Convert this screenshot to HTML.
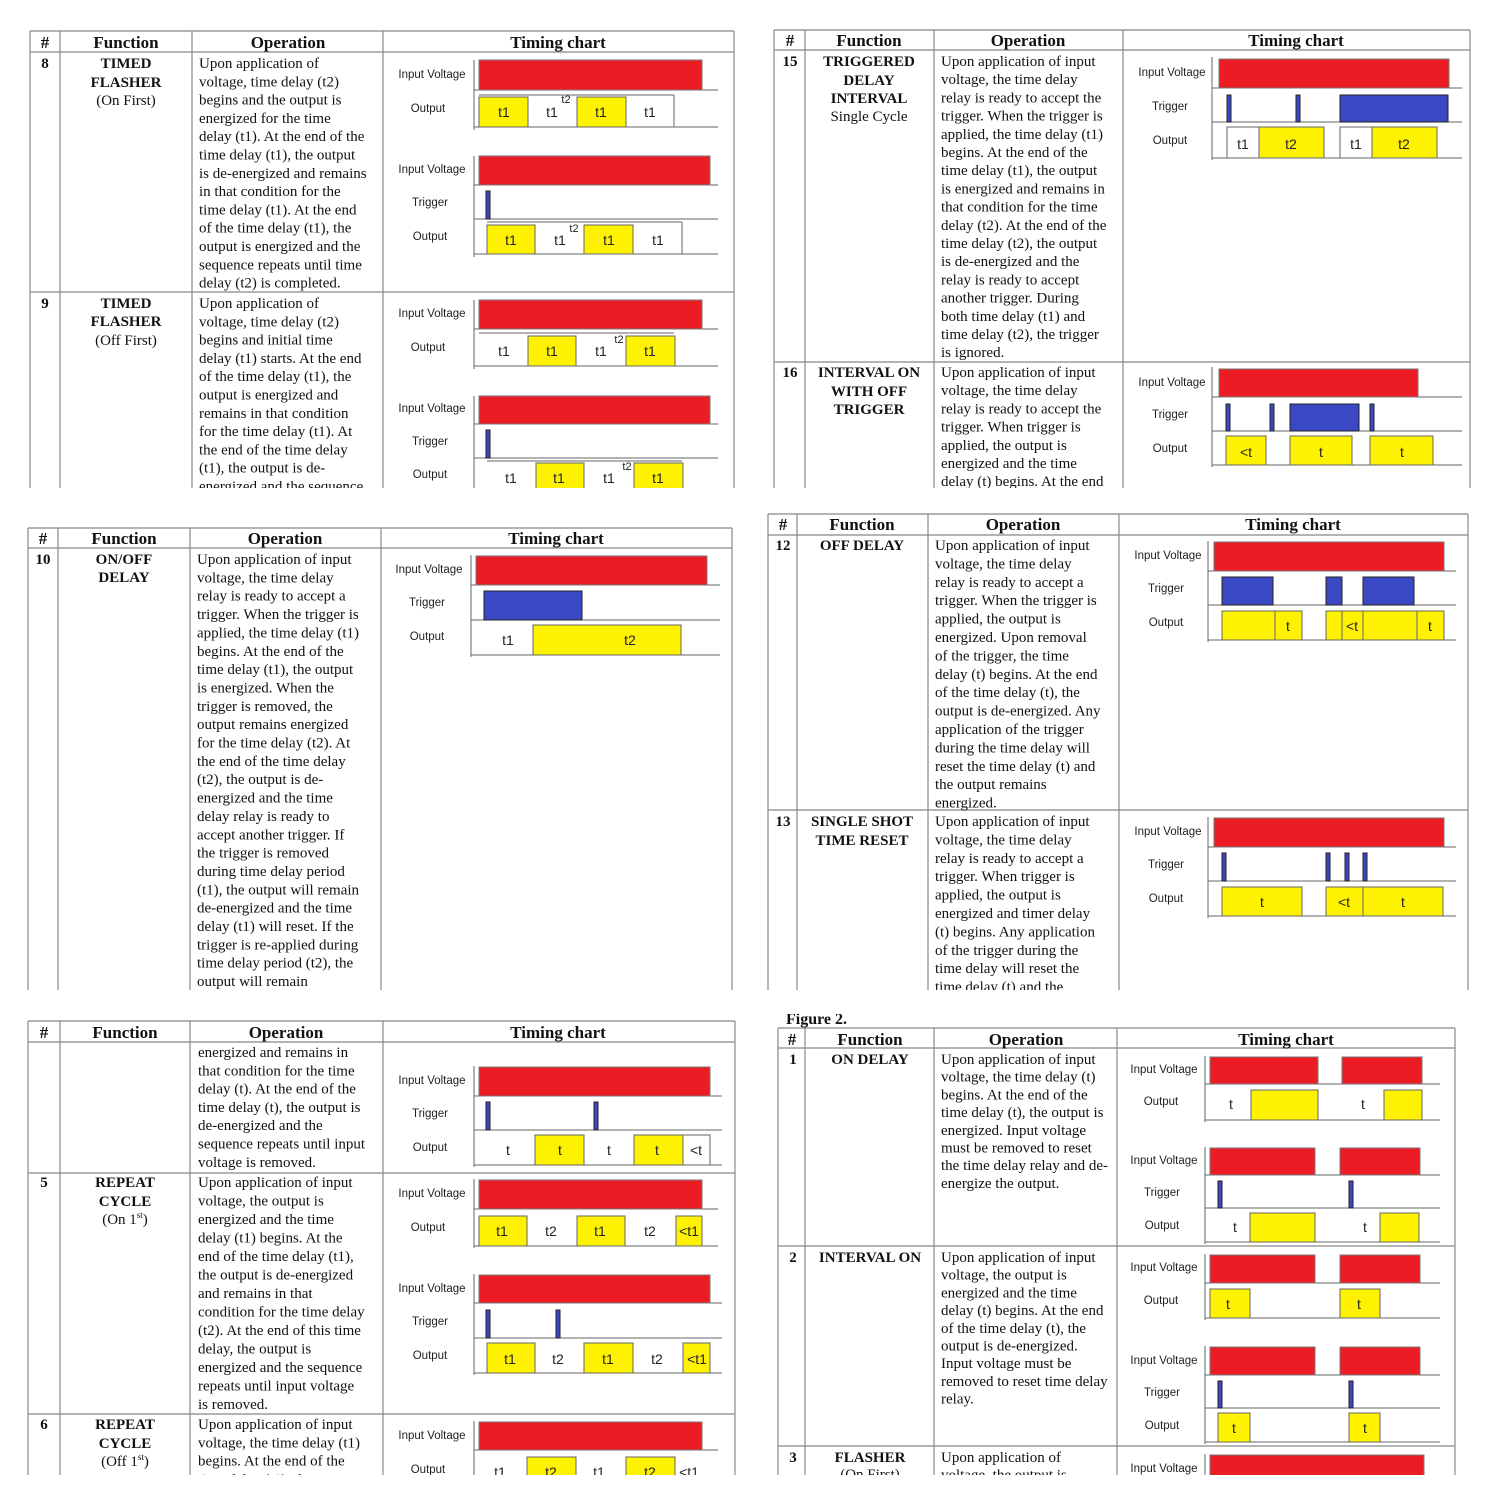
<!DOCTYPE html>
<html><head><meta charset="utf-8"><style>
body{margin:0;background:#fff}
svg{display:block}
.h{font:bold 17px "Liberation Serif",serif;fill:#111;text-anchor:middle}
.f{font:bold 15px "Liberation Serif",serif;fill:#111;text-anchor:middle}
.fn{font:15px "Liberation Serif",serif;fill:#111;text-anchor:middle}
.o{font:15px "Liberation Serif",serif;fill:#111}
.l{font:11.5px "Liberation Sans",sans-serif;fill:#222;text-anchor:middle}
.t{font:14px "Liberation Sans",sans-serif;fill:#222;text-anchor:middle}
.s{font:11px "Liberation Sans",sans-serif;fill:#222;text-anchor:middle}
.g{stroke:#888;stroke-width:1.2;fill:none}
.a{stroke:#666;stroke-width:1;fill:none}
.r{fill:#ec1c24;stroke:#777;stroke-width:1}
.y{fill:#fff200;stroke:#666;stroke-width:1}
.w{fill:#fff;stroke:#666;stroke-width:1}
.b{fill:#3a48c4;stroke:#222;stroke-width:1}
</style></head><body>
<svg width="1500" height="1500" viewBox="0 0 1500 1500" xmlns="http://www.w3.org/2000/svg">
<defs>
<clipPath id="cA"><rect x="0" y="0" width="760" height="488"/></clipPath>
<clipPath id="cB"><rect x="760" y="0" width="740" height="488"/></clipPath>
<clipPath id="cC"><rect x="0" y="500" width="760" height="490"/></clipPath>
<clipPath id="cD"><rect x="760" y="500" width="740" height="490"/></clipPath>
<clipPath id="cE"><rect x="0" y="1000" width="760" height="475"/></clipPath>
<clipPath id="cF"><rect x="760" y="1000" width="740" height="475"/></clipPath>
</defs>

<!-- ===== Panel A ===== -->
<g clip-path="url(#cA)">
<path class="g" d="M30 31H734M30 52H734M30 292H734M30 31V488M60 31V488M192 31V488M383 31V488M734 31V488"/>
<text class="h" x="45" y="48">#</text><text class="h" x="126" y="48">Function</text><text class="h" x="288" y="48">Operation</text><text class="h" x="558" y="48">Timing chart</text>
<text class="f" x="45" y="68">8</text>
<text class="f" x="126" y="68">TIMED</text><text class="f" x="126" y="87">FLASHER</text><text class="fn" x="126" y="105">(On First)</text>
<text class="o" x="199" y="68"><tspan x="199">Upon application of</tspan><tspan x="199" dy="18.3">voltage, time delay (t2)</tspan><tspan x="199" dy="18.3">begins and the output is</tspan><tspan x="199" dy="18.3">energized for the time</tspan><tspan x="199" dy="18.3">delay (t1). At the end of the</tspan><tspan x="199" dy="18.3">time delay (t1), the output</tspan><tspan x="199" dy="18.3">is de-energized and remains</tspan><tspan x="199" dy="18.3">in that condition for the</tspan><tspan x="199" dy="18.3">time delay (t1). At the end</tspan><tspan x="199" dy="18.3">of the time delay (t1), the</tspan><tspan x="199" dy="18.3">output is energized and the</tspan><tspan x="199" dy="18.3">sequence repeats until time</tspan><tspan x="199" dy="18.3">delay (t2) is completed.</tspan></text>
<text class="f" x="45" y="308">9</text>
<text class="f" x="126" y="308">TIMED</text><text class="f" x="126" y="326">FLASHER</text><text class="fn" x="126" y="345">(Off First)</text>
<text class="o" x="199" y="308"><tspan x="199">Upon application of</tspan><tspan x="199" dy="18.3">voltage, time delay (t2)</tspan><tspan x="199" dy="18.3">begins and initial time</tspan><tspan x="199" dy="18.3">delay (t1) starts. At the end</tspan><tspan x="199" dy="18.3">of the time delay (t1), the</tspan><tspan x="199" dy="18.3">output is energized and</tspan><tspan x="199" dy="18.3">remains in that condition</tspan><tspan x="199" dy="18.3">for the time delay (t1). At</tspan><tspan x="199" dy="18.3">the end of the time delay</tspan><tspan x="199" dy="18.3">(t1), the output is de-</tspan><tspan x="199" dy="18.3">energized and the sequence</tspan></text>
<!-- chart 8a -->
<path class="a" d="M474 60V130M474 90H718M474 127H718"/>
<rect class="r" x="479" y="60" width="223" height="30"/>
<rect class="y" x="479" y="97" width="49" height="30"/><rect class="y" x="577" y="97" width="49" height="30"/>
<path class="a" d="M479 95H674M674 95V127"/>
<text class="l" x="432" y="78">Input Voltage</text><text class="l" x="428" y="112">Output</text>
<text class="t" x="504" y="117">t1</text><text class="t" x="552" y="117">t1</text><text class="t" x="601" y="117">t1</text><text class="t" x="650" y="117">t1</text><text class="s" x="566" y="103">t2</text>
<!-- chart 8b -->
<path class="a" d="M474 156V257M474 185H718M474 219H718M474 254H718"/>
<rect class="r" x="479" y="156" width="231" height="29"/>
<rect class="b" x="486" y="191" width="4" height="28"/>
<rect class="y" x="487" y="225" width="48" height="29"/><rect class="y" x="584" y="225" width="49" height="29"/>
<path class="a" d="M487 222H682M682 222V254"/>
<text class="l" x="432" y="173">Input Voltage</text><text class="l" x="430" y="206">Trigger</text><text class="l" x="430" y="240">Output</text>
<text class="t" x="511" y="245">t1</text><text class="t" x="560" y="245">t1</text><text class="t" x="609" y="245">t1</text><text class="t" x="658" y="245">t1</text><text class="s" x="574" y="232">t2</text>
<!-- chart 9a -->
<path class="a" d="M474 300V369M474 329H718M474 366H718"/>
<rect class="r" x="479" y="300" width="223" height="29"/>
<rect class="y" x="528" y="336" width="48" height="30"/><rect class="y" x="626" y="336" width="49" height="30"/>
<path class="a" d="M479 333H674"/>
<text class="l" x="432" y="317">Input Voltage</text><text class="l" x="428" y="351">Output</text>
<text class="t" x="504" y="356">t1</text><text class="t" x="552" y="356">t1</text><text class="t" x="601" y="356">t1</text><text class="t" x="650" y="356">t1</text><text class="s" x="619" y="343">t2</text>
<!-- chart 9b -->
<path class="a" d="M474 396V490M474 424H718M474 458H718"/>
<rect class="r" x="479" y="396" width="231" height="28"/>
<rect class="b" x="486" y="430" width="4" height="28"/>
<rect class="y" x="536" y="463" width="48" height="30"/><rect class="y" x="634" y="463" width="49" height="30"/>
<path class="a" d="M487 461H682"/>
<text class="l" x="432" y="412">Input Voltage</text><text class="l" x="430" y="445">Trigger</text><text class="l" x="430" y="478">Output</text>
<text class="t" x="511" y="483">t1</text><text class="t" x="559" y="483">t1</text><text class="t" x="609" y="483">t1</text><text class="t" x="658" y="483">t1</text><text class="s" x="627" y="470">t2</text>
</g>

<!-- ===== Panel B ===== -->
<g clip-path="url(#cB)">
<path class="g" d="M774 30H1470M774 50H1470M774 362H1470M774 30V488M805 30V488M934 30V488M1123 30V488M1470 30V488"/>
<text class="h" x="790" y="46">#</text><text class="h" x="869" y="46">Function</text><text class="h" x="1028" y="46">Operation</text><text class="h" x="1296" y="46">Timing chart</text>
<text class="f" x="790" y="66">15</text>
<text class="f" x="869" y="66">TRIGGERED</text><text class="f" x="869" y="85">DELAY</text><text class="f" x="869" y="103">INTERVAL</text><text class="fn" x="869" y="121">Single Cycle</text>
<text class="o" x="941" y="66"><tspan x="941">Upon application of input</tspan><tspan x="941" dy="18.2">voltage, the time delay</tspan><tspan x="941" dy="18.2">relay is ready to accept the</tspan><tspan x="941" dy="18.2">trigger. When the trigger is</tspan><tspan x="941" dy="18.2">applied, the time delay (t1)</tspan><tspan x="941" dy="18.2">begins. At the end of the</tspan><tspan x="941" dy="18.2">time delay (t1), the output</tspan><tspan x="941" dy="18.2">is energized and remains in</tspan><tspan x="941" dy="18.2">that condition for the time</tspan><tspan x="941" dy="18.2">delay (t2). At the end of the</tspan><tspan x="941" dy="18.2">time delay (t2), the output</tspan><tspan x="941" dy="18.2">is de-energized and the</tspan><tspan x="941" dy="18.2">relay is ready to accept</tspan><tspan x="941" dy="18.2">another trigger. During</tspan><tspan x="941" dy="18.2">both time delay (t1) and</tspan><tspan x="941" dy="18.2">time delay (t2), the trigger</tspan><tspan x="941" dy="18.2">is ignored.</tspan></text>
<text class="f" x="790" y="377">16</text>
<text class="f" x="869" y="377">INTERVAL ON</text><text class="f" x="869" y="396">WITH OFF</text><text class="f" x="869" y="414">TRIGGER</text>
<text class="o" x="941" y="377"><tspan x="941">Upon application of input</tspan><tspan x="941" dy="18.2">voltage, the time delay</tspan><tspan x="941" dy="18.2">relay is ready to accept the</tspan><tspan x="941" dy="18.2">trigger. When trigger is</tspan><tspan x="941" dy="18.2">applied, the output is</tspan><tspan x="941" dy="18.2">energized and the time</tspan><tspan x="941" dy="18.2">delay (t) begins. At the end</tspan></text>
<!-- chart 15 -->
<path class="a" d="M1212 57V160M1212 88H1462M1212 122H1462M1212 158H1462"/>
<rect class="r" x="1219" y="59" width="230" height="29"/>
<rect class="b" x="1227" y="95" width="4" height="27"/><rect class="b" x="1296" y="95" width="4" height="27"/><rect class="b" x="1340" y="95" width="108" height="27"/>
<rect class="w" x="1227" y="127" width="32" height="31"/><rect class="y" x="1259" y="127" width="65" height="31"/>
<rect class="w" x="1340" y="127" width="32" height="31"/><rect class="y" x="1372" y="127" width="65" height="31"/>
<text class="l" x="1172" y="76">Input Voltage</text><text class="l" x="1170" y="110">Trigger</text><text class="l" x="1170" y="144">Output</text>
<text class="t" x="1243" y="149">t1</text><text class="t" x="1291" y="149">t2</text><text class="t" x="1356" y="149">t1</text><text class="t" x="1404" y="149">t2</text>
<!-- chart 16 -->
<path class="a" d="M1212 367V467M1212 397H1462M1212 431H1462M1212 465H1462"/>
<rect class="r" x="1219" y="369" width="199" height="28"/>
<rect class="b" x="1226" y="404" width="4" height="27"/><rect class="b" x="1270" y="404" width="4" height="27"/><rect class="b" x="1290" y="404" width="69" height="27"/><rect class="b" x="1370" y="404" width="4" height="27"/>
<rect class="y" x="1226" y="436" width="40" height="29"/><rect class="y" x="1290" y="436" width="62" height="29"/><rect class="y" x="1370" y="436" width="63" height="29"/>
<text class="l" x="1172" y="386">Input Voltage</text><text class="l" x="1170" y="418">Trigger</text><text class="l" x="1170" y="452">Output</text>
<text class="t" x="1246" y="457">&lt;t</text><text class="t" x="1321" y="457">t</text><text class="t" x="1402" y="457">t</text>
</g>

<!-- ===== Panel C ===== -->
<g clip-path="url(#cC)">
<path class="g" d="M28 528H732M28 548H732M28 528V990M58 528V990M190 528V990M381 528V990M732 528V990"/>
<text class="h" x="43" y="544">#</text><text class="h" x="124" y="544">Function</text><text class="h" x="285" y="544">Operation</text><text class="h" x="556" y="544">Timing chart</text>
<text class="f" x="43" y="564">10</text>
<text class="f" x="124" y="564">ON/OFF</text><text class="f" x="124" y="582">DELAY</text>
<text class="o" x="197" y="564"><tspan x="197">Upon application of input</tspan><tspan x="197" dy="18.35">voltage, the time delay</tspan><tspan x="197" dy="18.35">relay is ready to accept a</tspan><tspan x="197" dy="18.35">trigger. When the trigger is</tspan><tspan x="197" dy="18.35">applied, the time delay (t1)</tspan><tspan x="197" dy="18.35">begins. At the end of the</tspan><tspan x="197" dy="18.35">time delay (t1), the output</tspan><tspan x="197" dy="18.35">is energized. When the</tspan><tspan x="197" dy="18.35">trigger is removed, the</tspan><tspan x="197" dy="18.35">output remains energized</tspan><tspan x="197" dy="18.35">for the time delay (t2). At</tspan><tspan x="197" dy="18.35">the end of the time delay</tspan><tspan x="197" dy="18.35">(t2), the output is de-</tspan><tspan x="197" dy="18.35">energized and the time</tspan><tspan x="197" dy="18.35">delay relay is ready to</tspan><tspan x="197" dy="18.35">accept another trigger. If</tspan><tspan x="197" dy="18.35">the trigger is removed</tspan><tspan x="197" dy="18.35">during time delay period</tspan><tspan x="197" dy="18.35">(t1), the output will remain</tspan><tspan x="197" dy="18.35">de-energized and the time</tspan><tspan x="197" dy="18.35">delay (t1) will reset. If the</tspan><tspan x="197" dy="18.35">trigger is re-applied during</tspan><tspan x="197" dy="18.35">time delay period (t2), the</tspan><tspan x="197" dy="18.35">output will remain</tspan></text>
<path class="a" d="M471 555V657M471 585H720M471 620H720M471 655H720"/>
<rect class="r" x="476" y="556" width="231" height="29"/>
<rect class="b" x="484" y="591" width="98" height="29"/>
<rect class="y" x="533" y="625" width="148" height="30"/>
<text class="l" x="429" y="573">Input Voltage</text><text class="l" x="427" y="606">Trigger</text><text class="l" x="427" y="640">Output</text>
<text class="t" x="508" y="645">t1</text><text class="t" x="630" y="645">t2</text>
</g>

<!-- ===== Panel D ===== -->
<g clip-path="url(#cD)">
<path class="g" d="M768 514H1468M768 535H1468M768 810H1468M768 514V990M797 514V990M928 514V990M1119 514V990M1468 514V990"/>
<text class="h" x="783" y="530">#</text><text class="h" x="862" y="530">Function</text><text class="h" x="1023" y="530">Operation</text><text class="h" x="1293" y="530">Timing chart</text>
<text class="f" x="783" y="550">12</text><text class="f" x="862" y="550">OFF DELAY</text>
<text class="o" x="935" y="550"><tspan x="935">Upon application of input</tspan><tspan x="935" dy="18.4">voltage, the time delay</tspan><tspan x="935" dy="18.4">relay is ready to accept a</tspan><tspan x="935" dy="18.4">trigger. When the trigger is</tspan><tspan x="935" dy="18.4">applied, the output is</tspan><tspan x="935" dy="18.4">energized. Upon removal</tspan><tspan x="935" dy="18.4">of the trigger, the time</tspan><tspan x="935" dy="18.4">delay (t) begins. At the end</tspan><tspan x="935" dy="18.4">of the time delay (t), the</tspan><tspan x="935" dy="18.4">output is de-energized. Any</tspan><tspan x="935" dy="18.4">application of the trigger</tspan><tspan x="935" dy="18.4">during the time delay will</tspan><tspan x="935" dy="18.4">reset the time delay (t) and</tspan><tspan x="935" dy="18.4">the output remains</tspan><tspan x="935" dy="18.4">energized.</tspan></text>
<text class="f" x="783" y="826">13</text><text class="f" x="862" y="826">SINGLE SHOT</text><text class="f" x="862" y="845">TIME RESET</text>
<text class="o" x="935" y="826"><tspan x="935">Upon application of input</tspan><tspan x="935" dy="18.4">voltage, the time delay</tspan><tspan x="935" dy="18.4">relay is ready to accept a</tspan><tspan x="935" dy="18.4">trigger. When trigger is</tspan><tspan x="935" dy="18.4">applied, the output is</tspan><tspan x="935" dy="18.4">energized and timer delay</tspan><tspan x="935" dy="18.4">(t) begins. Any application</tspan><tspan x="935" dy="18.4">of the trigger during the</tspan><tspan x="935" dy="18.4">time delay will reset the</tspan><tspan x="935" dy="18.4">time delay (t) and the</tspan></text>
<!-- chart 12 -->
<path class="a" d="M1208 541V642M1208 571H1456M1208 605H1456M1208 640H1456"/>
<rect class="r" x="1214" y="542" width="230" height="29"/>
<rect class="b" x="1222" y="577" width="51" height="28"/><rect class="b" x="1326" y="577" width="16" height="28"/><rect class="b" x="1363" y="577" width="51" height="28"/>
<rect class="y" x="1222" y="611" width="53" height="29"/><rect class="y" x="1275" y="611" width="27" height="29"/>
<rect class="y" x="1326" y="611" width="16" height="29"/><rect class="y" x="1342" y="611" width="21" height="29"/><rect class="y" x="1363" y="611" width="54" height="29"/><rect class="y" x="1417" y="611" width="27" height="29"/>
<text class="l" x="1168" y="559">Input Voltage</text><text class="l" x="1166" y="592">Trigger</text><text class="l" x="1166" y="626">Output</text>
<text class="t" x="1288" y="631">t</text><text class="t" x="1352" y="631">&lt;t</text><text class="t" x="1430" y="631">t</text>
<!-- chart 13 -->
<path class="a" d="M1208 817V918M1208 847H1456M1208 881H1456M1208 916H1456"/>
<rect class="r" x="1214" y="818" width="230" height="29"/>
<rect class="b" x="1222" y="853" width="4" height="28"/><rect class="b" x="1326" y="853" width="4" height="28"/><rect class="b" x="1345" y="853" width="4" height="28"/><rect class="b" x="1363" y="853" width="4" height="28"/>
<rect class="y" x="1222" y="887" width="80" height="29"/><rect class="y" x="1326" y="887" width="37" height="29"/><rect class="y" x="1363" y="887" width="80" height="29"/>
<text class="l" x="1168" y="835">Input Voltage</text><text class="l" x="1166" y="868">Trigger</text><text class="l" x="1166" y="902">Output</text>
<text class="t" x="1262" y="907">t</text><text class="t" x="1344" y="907">&lt;t</text><text class="t" x="1403" y="907">t</text>
</g>

<!-- ===== Panel E ===== -->
<g clip-path="url(#cE)">
<path class="g" d="M28 1021H735M28 1042H735M28 1173H735M28 1414H735M28 1021V1475M60 1021V1475M190 1021V1475M383 1021V1475M735 1021V1475"/>
<text class="h" x="44" y="1038">#</text><text class="h" x="125" y="1038">Function</text><text class="h" x="286" y="1038">Operation</text><text class="h" x="558" y="1038">Timing chart</text>
<text class="o" x="198" y="1057"><tspan x="198">energized and remains in</tspan><tspan x="198" dy="18.3">that condition for the time</tspan><tspan x="198" dy="18.3">delay (t). At the end of the</tspan><tspan x="198" dy="18.3">time delay (t), the output is</tspan><tspan x="198" dy="18.3">de-energized and the</tspan><tspan x="198" dy="18.3">sequence repeats until input</tspan><tspan x="198" dy="18.3">voltage is removed.</tspan></text>
<text class="f" x="44" y="1187">5</text><text class="f" x="125" y="1187">REPEAT</text><text class="f" x="125" y="1206">CYCLE</text><text class="fn" x="125" y="1224">(On 1<tspan font-size="9" dy="-6">st</tspan><tspan dy="6">)</tspan></text>
<text class="o" x="198" y="1187"><tspan x="198">Upon application of input</tspan><tspan x="198" dy="18.5">voltage, the output is</tspan><tspan x="198" dy="18.5">energized and the time</tspan><tspan x="198" dy="18.5">delay (t1) begins. At the</tspan><tspan x="198" dy="18.5">end of the time delay (t1),</tspan><tspan x="198" dy="18.5">the output is de-energized</tspan><tspan x="198" dy="18.5">and remains in that</tspan><tspan x="198" dy="18.5">condition for the time delay</tspan><tspan x="198" dy="18.5">(t2). At the end of this time</tspan><tspan x="198" dy="18.5">delay, the output is</tspan><tspan x="198" dy="18.5">energized and the sequence</tspan><tspan x="198" dy="18.5">repeats until input voltage</tspan><tspan x="198" dy="18.5">is removed.</tspan></text>
<text class="f" x="44" y="1429">6</text><text class="f" x="125" y="1429">REPEAT</text><text class="f" x="125" y="1448">CYCLE</text><text class="fn" x="125" y="1466">(Off 1<tspan font-size="9" dy="-6">st</tspan><tspan dy="6">)</tspan></text>
<text class="o" x="198" y="1429"><tspan x="198">Upon application of input</tspan><tspan x="198" dy="18.3">voltage, the time delay (t1)</tspan><tspan x="198" dy="18.3">begins. At the end of the</tspan><tspan x="198" dy="18.3">time delay (t1), the output</tspan></text>
<!-- chart top -->
<path class="a" d="M474 1066V1167M474 1096H722M474 1130H722M474 1165H722"/>
<rect class="r" x="479" y="1067" width="231" height="29"/>
<rect class="b" x="486" y="1102" width="4" height="28"/><rect class="b" x="594" y="1102" width="4" height="28"/>
<rect class="y" x="535" y="1135" width="49" height="30"/><rect class="y" x="634" y="1135" width="49" height="30"/><rect class="w" x="683" y="1135" width="27" height="30"/>
<text class="l" x="432" y="1084">Input Voltage</text><text class="l" x="430" y="1117">Trigger</text><text class="l" x="430" y="1151">Output</text>
<text class="t" x="508" y="1155">t</text><text class="t" x="560" y="1155">t</text><text class="t" x="609" y="1155">t</text><text class="t" x="657" y="1155">t</text><text class="t" x="696" y="1155">&lt;t</text>
<!-- chart 5a -->
<path class="a" d="M474 1179V1248M474 1209H718M474 1246H718"/>
<rect class="r" x="479" y="1180" width="223" height="29"/>
<rect class="y" x="479" y="1216" width="48" height="30"/><rect class="y" x="577" y="1216" width="48" height="30"/><rect class="y" x="676" y="1216" width="26" height="30"/>
<text class="l" x="432" y="1197">Input Voltage</text><text class="l" x="428" y="1231">Output</text>
<text class="t" x="502" y="1236">t1</text><text class="t" x="551" y="1236">t2</text><text class="t" x="600" y="1236">t1</text><text class="t" x="650" y="1236">t2</text><text class="t" x="689" y="1236">&lt;t1</text>
<!-- chart 5b -->
<path class="a" d="M474 1274V1375M474 1303H722M474 1338H722M474 1373H722"/>
<rect class="r" x="479" y="1275" width="231" height="28"/>
<rect class="b" x="486" y="1310" width="4" height="28"/><rect class="b" x="556" y="1310" width="4" height="28"/>
<rect class="y" x="487" y="1343" width="48" height="30"/><rect class="y" x="584" y="1343" width="49" height="30"/><rect class="y" x="683" y="1343" width="27" height="30"/>
<text class="l" x="432" y="1292">Input Voltage</text><text class="l" x="430" y="1325">Trigger</text><text class="l" x="430" y="1359">Output</text>
<text class="t" x="510" y="1364">t1</text><text class="t" x="558" y="1364">t2</text><text class="t" x="608" y="1364">t1</text><text class="t" x="657" y="1364">t2</text><text class="t" x="697" y="1364">&lt;t1</text>
<!-- chart 6 -->
<path class="a" d="M474 1421V1480M474 1450H718"/>
<rect class="r" x="479" y="1422" width="223" height="28"/>
<rect class="y" x="527" y="1457" width="49" height="30"/><rect class="y" x="626" y="1457" width="49" height="30"/>
<text class="l" x="432" y="1439">Input Voltage</text><text class="l" x="428" y="1473">Output</text>
<text class="t" x="500" y="1477">t1</text><text class="t" x="551" y="1477">t2</text><text class="t" x="599" y="1477">t1</text><text class="t" x="650" y="1477">t2</text><text class="t" x="689" y="1477">&lt;t1</text>
</g>

<!-- ===== Panel F ===== -->
<g clip-path="url(#cF)">
<text x="786" y="1024" style="font:bold 16px 'Liberation Serif',serif;fill:#111">Figure 2.</text>
<rect x="760" y="1000" width="740" height="14" fill="#fff"/>
<path class="g" d="M778 1028H1455M778 1048H1455M778 1246H1455M778 1446H1455M778 1028V1475M805 1028V1475M934 1028V1475M1117 1028V1475M1455 1028V1475"/>
<text class="h" x="792" y="1045">#</text><text class="h" x="870" y="1045">Function</text><text class="h" x="1026" y="1045">Operation</text><text class="h" x="1286" y="1045">Timing chart</text>
<text class="f" x="793" y="1064">1</text><text class="f" x="870" y="1064">ON DELAY</text>
<text class="o" x="941" y="1064"><tspan x="941">Upon application of input</tspan><tspan x="941" dy="17.7">voltage, the time delay (t)</tspan><tspan x="941" dy="17.7">begins. At the end of the</tspan><tspan x="941" dy="17.7">time delay (t), the output is</tspan><tspan x="941" dy="17.7">energized. Input voltage</tspan><tspan x="941" dy="17.7">must be removed to reset</tspan><tspan x="941" dy="17.7">the time delay relay and de-</tspan><tspan x="941" dy="17.7">energize the output.</tspan></text>
<text class="f" x="793" y="1262">2</text><text class="f" x="870" y="1262">INTERVAL ON</text>
<text class="o" x="941" y="1262"><tspan x="941">Upon application of input</tspan><tspan x="941" dy="17.7">voltage, the output is</tspan><tspan x="941" dy="17.7">energized and the time</tspan><tspan x="941" dy="17.7">delay (t) begins. At the end</tspan><tspan x="941" dy="17.7">of the time delay (t), the</tspan><tspan x="941" dy="17.7">output is de-energized.</tspan><tspan x="941" dy="17.7">Input voltage must be</tspan><tspan x="941" dy="17.7">removed to reset time delay</tspan><tspan x="941" dy="17.7">relay.</tspan></text>
<text class="f" x="793" y="1462">3</text><text class="f" x="870" y="1462">FLASHER</text><text class="fn" x="870" y="1479">(On First)</text>
<text class="o" x="941" y="1462"><tspan x="941">Upon application of</tspan><tspan x="941" dy="17.7">voltage, the output is</tspan></text>
<!-- chart 1a -->
<path class="a" d="M1205 1056V1122M1205 1084H1440M1205 1120H1440"/>
<rect class="r" x="1210" y="1057" width="108" height="27"/><rect class="r" x="1342" y="1057" width="80" height="27"/>
<rect class="y" x="1251" y="1090" width="67" height="30"/><rect class="y" x="1384" y="1090" width="38" height="30"/>
<text class="l" x="1164" y="1073">Input Voltage</text><text class="l" x="1161" y="1105">Output</text>
<text class="t" x="1231" y="1109">t</text><text class="t" x="1363" y="1109">t</text>
<!-- chart 1b -->
<path class="a" d="M1205 1147V1244M1205 1175H1440M1205 1208H1440M1205 1242H1440"/>
<rect class="r" x="1210" y="1148" width="105" height="27"/><rect class="r" x="1340" y="1148" width="80" height="27"/>
<rect class="b" x="1218" y="1181" width="4" height="27"/><rect class="b" x="1349" y="1181" width="4" height="27"/>
<rect class="y" x="1250" y="1213" width="65" height="29"/><rect class="y" x="1380" y="1213" width="39" height="29"/>
<text class="l" x="1164" y="1164">Input Voltage</text><text class="l" x="1162" y="1196">Trigger</text><text class="l" x="1162" y="1229">Output</text>
<text class="t" x="1235" y="1232">t</text><text class="t" x="1365" y="1232">t</text>
<!-- chart 2a -->
<path class="a" d="M1205 1254V1320M1205 1283H1440M1205 1318H1440"/>
<rect class="r" x="1210" y="1255" width="105" height="28"/><rect class="r" x="1340" y="1255" width="80" height="28"/>
<rect class="y" x="1210" y="1289" width="40" height="29"/><rect class="y" x="1340" y="1289" width="40" height="29"/>
<text class="l" x="1164" y="1271">Input Voltage</text><text class="l" x="1161" y="1304">Output</text>
<text class="t" x="1228" y="1309">t</text><text class="t" x="1359" y="1309">t</text>
<!-- chart 2b -->
<path class="a" d="M1205 1346V1444M1205 1375H1440M1205 1408H1440M1205 1442H1440"/>
<rect class="r" x="1210" y="1347" width="105" height="28"/><rect class="r" x="1340" y="1347" width="80" height="28"/>
<rect class="b" x="1218" y="1381" width="4" height="27"/><rect class="b" x="1349" y="1381" width="4" height="27"/>
<rect class="y" x="1218" y="1413" width="32" height="29"/><rect class="y" x="1349" y="1413" width="31" height="29"/>
<text class="l" x="1164" y="1364">Input Voltage</text><text class="l" x="1162" y="1396">Trigger</text><text class="l" x="1162" y="1429">Output</text>
<text class="t" x="1234" y="1433">t</text><text class="t" x="1365" y="1433">t</text>
<!-- chart 3 -->
<path class="a" d="M1205 1454V1480"/>
<rect class="r" x="1210" y="1455" width="214" height="28"/>
<text class="l" x="1164" y="1472">Input Voltage</text>
</g>
</svg>
</body></html>
